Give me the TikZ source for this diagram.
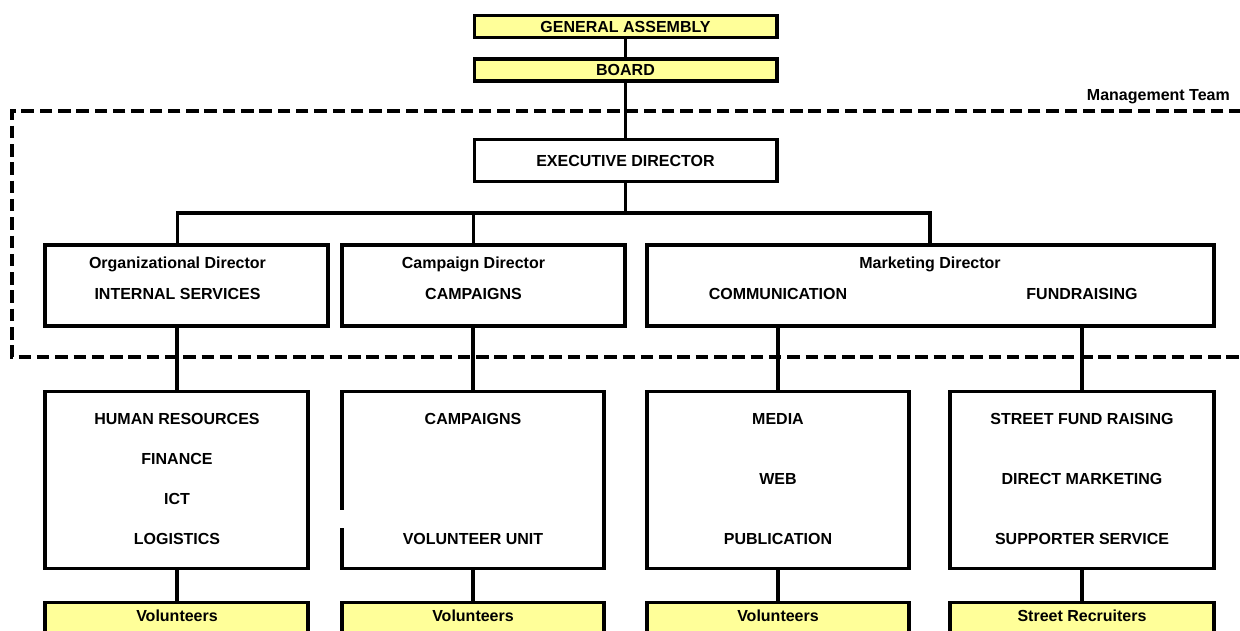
\documentclass[tikz,border=0pt]{standalone}
\usepackage{fontspec}
\setmainfont{Liberation Sans}
\definecolor{paleyellow}{HTML}{FFFF99}
\begin{document}
\begin{tikzpicture}[x=1pt,y=-1pt,
  box/.style={draw=black,line width=3.5pt,rectangle,inner sep=0pt,fill=white},
  ybox/.style={box,fill=paleyellow},
  lbl/.style={inner sep=0pt,font=\fontsize{16}{19}\selectfont\bfseries},
  conn/.style={draw=black,line width=3.5pt},
  mgmt/.style={draw=black,line width=3.3pt,dash pattern=on 12.5pt off 5.8pt}]
\useasboundingbox (0,0) rectangle (1240,630);
\clip (0,0) rectangle (1240,630);
\fill[white] (0,0) rectangle (1240,630);

% management team frame
\draw[mgmt] (1260,111) -- (12,111) -- (12,357) -- (1260,357);
\node[lbl,anchor=east] (mt) at (1230,97) {Management Team};

% top chain
\node[ybox,minimum width=302.5pt,minimum height=22pt,lbl] (ga) at (625.5,26.5) {GENERAL ASSEMBLY};
\node[ybox,minimum width=302.5pt,minimum height=22pt,lbl] (board) at (625.5,70) {BOARD};
\node[box,minimum width=302.5pt,minimum height=42pt,lbl] (exec) at (625.5,160.5) {EXECUTIVE DIRECTOR};

% directors
\node[box,minimum width=283pt,minimum height=81pt] (org) at (186.5,285.5) {};
\node[box,minimum width=283pt,minimum height=81pt] (camp) at (483.5,285.5) {};
\node[box,minimum width=567pt,minimum height=81pt] (mkt) at (930.5,285.5) {};
\node[lbl] (orgt) at (177.5,264) {Organizational Director};
\node[lbl] (orgs) at (177.5,294) {INTERNAL SERVICES};
\node[lbl] (campt) at (473.5,264) {Campaign Director};
\node[lbl] (camps) at (473.5,294) {CAMPAIGNS};
\node[lbl] (mktt) at (930,264) {Marketing Director};
\node[lbl] (mktc) at (778,294) {COMMUNICATION};
\node[lbl] (mktf) at (1082,294) {FUNDRAISING};

% departments
\node[box,minimum width=263pt,minimum height=177pt] (hr) at (176.5,480) {};
\node[box,minimum width=262pt,minimum height=177pt] (cmp) at (473,480) {};
\node[box,minimum width=262pt,minimum height=177pt] (med) at (778,480) {};
\node[box,minimum width=264pt,minimum height=177pt] (str) at (1082,480) {};
% gap in left edge of campaigns box
\fill[white] (338,510) rectangle (344.5,528);

\node[lbl] (hr1) at (177,419) {HUMAN RESOURCES};
\node[lbl] (hr2) at (177,459) {FINANCE};
\node[lbl] (hr3) at (177,499) {ICT};
\node[lbl] (hr4) at (177,539) {LOGISTICS};
\node[lbl] (cm1) at (473,419) {CAMPAIGNS};
\node[lbl] (cm2) at (473,539) {VOLUNTEER UNIT};
\node[lbl] (md1) at (778,419) {MEDIA};
\node[lbl] (md2) at (778,479) {WEB};
\node[lbl] (md3) at (778,539) {PUBLICATION};
\node[lbl] (st1) at (1082,419) {STREET FUND RAISING};
\node[lbl] (st2) at (1082,479) {DIRECT MARKETING};
\node[lbl] (st3) at (1082,539) {SUPPORTER SERVICE};

% volunteers
\node[ybox,minimum width=263pt,minimum height=40pt] (v1) at (176.5,622.5) {};
\node[ybox,minimum width=262pt,minimum height=40pt] (v2) at (473,622.5) {};
\node[ybox,minimum width=262pt,minimum height=40pt] (v3) at (778,622.5) {};
\node[ybox,minimum width=264pt,minimum height=40pt] (v4) at (1082,622.5) {};
\node[lbl] (v1t) at (177,616) {Volunteers};
\node[lbl] (v2t) at (473,616) {Volunteers};
\node[lbl] (v3t) at (778,616) {Volunteers};
\node[lbl] (v4t) at (1082,616) {Street Recruiters};

% connectors
\coordinate (bus) at (625.5,213);
\draw[conn] (ga.south) -- (board.north);
\draw[conn] (board.south) -- (exec.north);
\draw[conn] (exec.south) -- (bus);
\draw[conn] (org.north -| orgt) |- (bus) -| (mkt.north -| mktt);
\draw[conn] (bus -| campt) -- (camp.north -| campt);
\draw[conn] (org.south -| hr1) -- (hr.north -| hr1);
\draw[conn] (camp.south -| cm1) -- (cmp.north -| cm1);
\draw[conn] (mkt.south -| mktc) -- (med.north -| mktc);
\draw[conn] (mkt.south -| mktf) -- (str.north -| mktf);
\draw[conn] (hr.south -| hr1) -- (v1.north -| hr1);
\draw[conn] (cmp.south -| cm1) -- (v2.north -| cm1);
\draw[conn] (med.south -| md1) -- (v3.north -| md1);
\draw[conn] (str.south -| st1) -- (v4.north -| st1);
\end{tikzpicture}
\end{document}
